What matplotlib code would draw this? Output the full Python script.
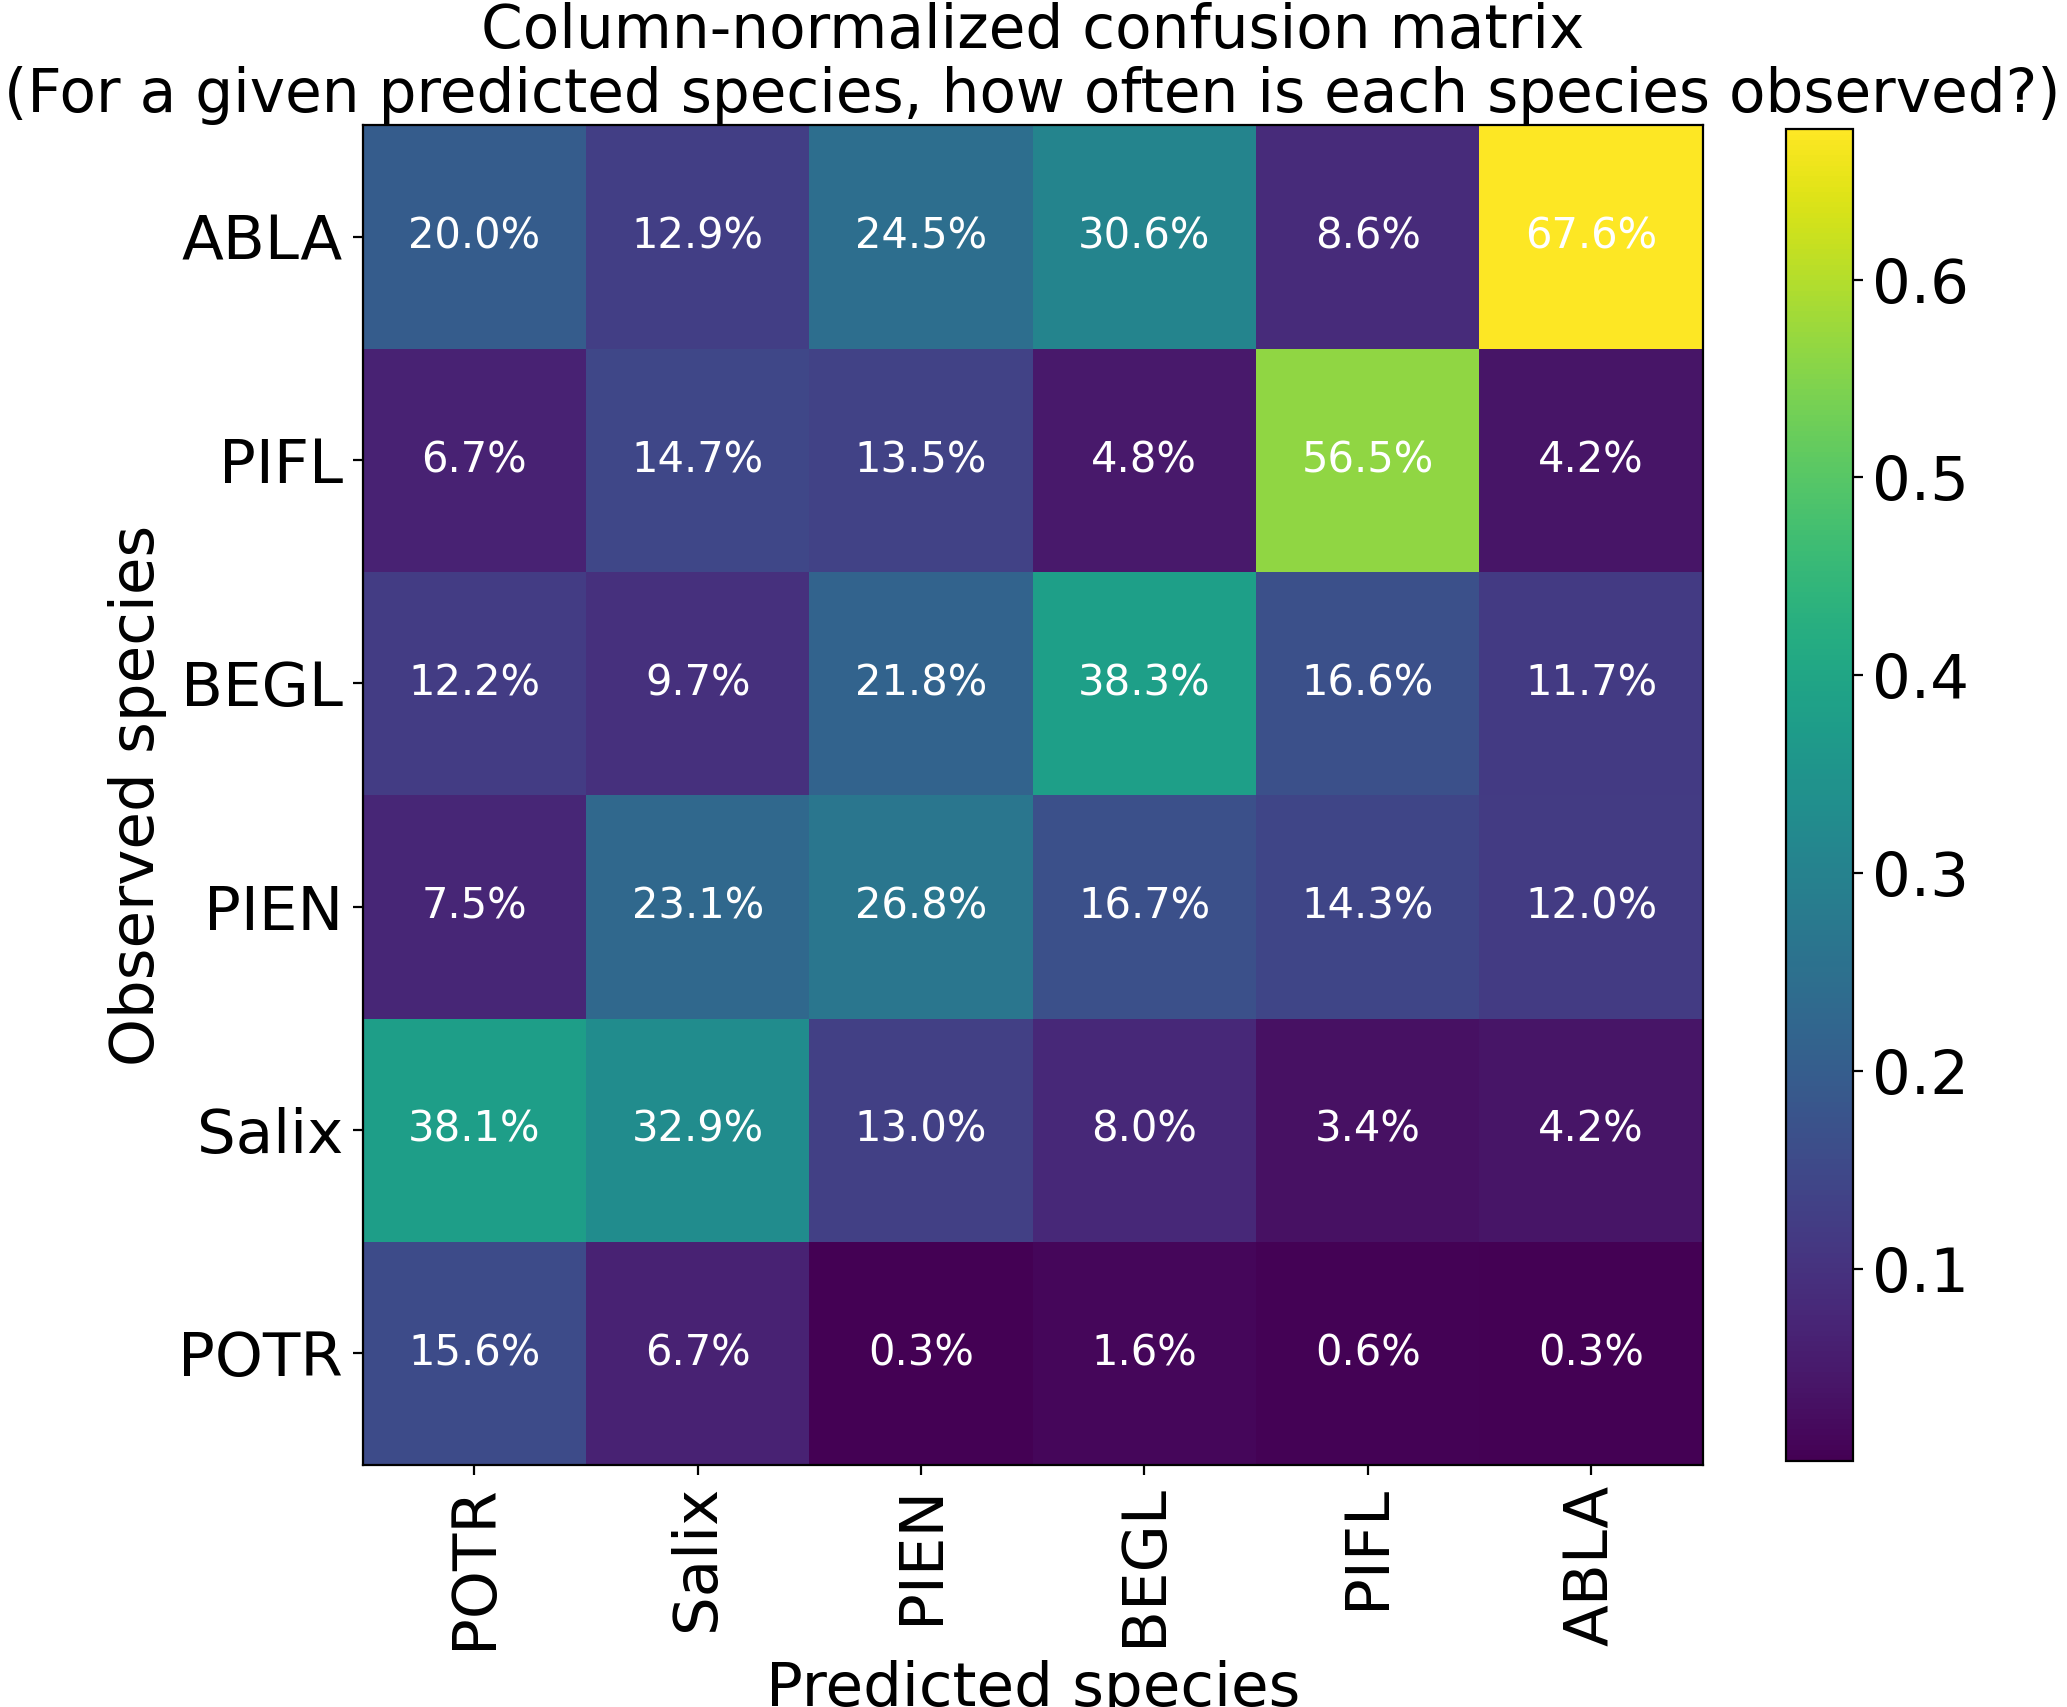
import numpy as np
import matplotlib
matplotlib.use("Agg")
import matplotlib.pyplot as plt

# species order, bottom row / left column first
species = ["POTR", "Salix", "PIEN", "BEGL", "PIFL", "ABLA"]

# column-normalized percentages, rows = observed, cols = predicted
potr_row = [15.6, 6.7, 0.3, 1.6, 0.6, 0.3]
salix_row = [38.1, 32.9, 13.0, 8.0, 3.4, 4.2]
pien_row = [7.5, 23.1, 26.8, 16.7, 14.3, 12.0]
begl_row = [12.2, 9.7, 21.8, 38.3, 16.6, 11.7]
pifl_row = [6.7, 14.7, 13.5, 4.8, 56.5, 4.2]
abla_row = [20.0, 12.9, 24.5, 30.6, 8.6, 67.6]

cm = np.array([potr_row, salix_row, pien_row, begl_row, pifl_row, abla_row]) / 100.0

fig = plt.figure(figsize=(10.335, 8.535), dpi=200)
ax = fig.add_axes([0.17547, 0.14177, 0.64828, 0.78500])
cax = fig.add_axes([0.86406, 0.14429, 0.03241, 0.77996])

im = ax.imshow(cm, cmap="viridis", origin="lower", interpolation="nearest")

# percentage in every cell
for i in range(len(species)):
    for j in range(len(species)):
        ax.text(j, i, f"{cm[i, j] * 100:.1f}%", ha="center", va="center",
                color="white", fontsize=15)

ax.set_xticks(np.arange(len(species)))
ax.set_yticks(np.arange(len(species)))
ax.set_xticklabels(species, rotation=90, fontsize=22)
ax.set_yticklabels(species, fontsize=22)
ax.set_xlabel("Predicted species", fontsize=22)
ax.set_ylabel("Observed species", fontsize=22)
ax.set_title("Column-normalized confusion matrix\n"
             "(For a given predicted species, how often is each species observed?)",
             fontsize=21.5, pad=0.7, linespacing=1.1)

cbar = fig.colorbar(im, cax=cax)
cbar.ax.tick_params(labelsize=22)

fig.savefig("out.png", dpi=200)
